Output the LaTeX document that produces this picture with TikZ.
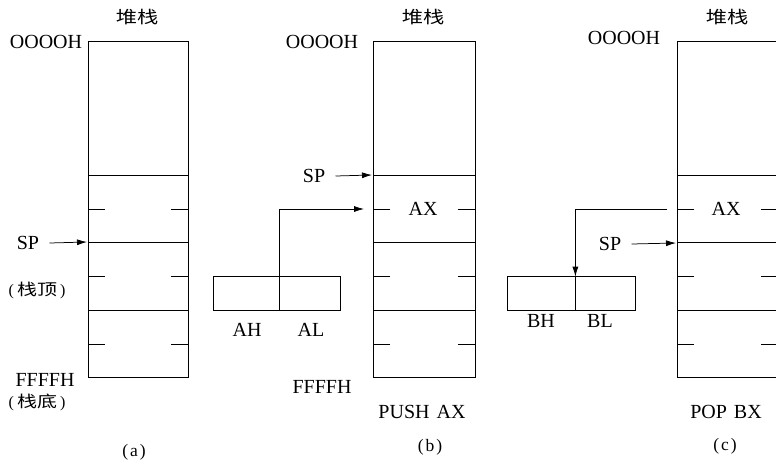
\documentclass[tikz,border=0pt]{standalone}
\usepackage{graphicx}
\usepackage{fontspec}
\setmainfont{Liberation Serif}
\newfontfamily\cjk{Noto Sans CJK SC}
\usetikzlibrary{arrows.meta}
\newcommand\hzt[1]{\scalebox{1.25}[1]{\cjk #1}}
\newcommand\drawstack[2]{%
  \draw (#1,41) rectangle (#2,377);
  \foreach \yy in {175,242,310} {\draw (#1,\yy) -- (#2,\yy);}
  \foreach \yy in {209,276,344} {\draw (#1,\yy) -- ++(17,0); \draw (#2,\yy) -- ++(-17,0);}
}
\begin{document}
\begin{tikzpicture}[x=1pt,y=-1pt,line width=0.75pt,
  lbl/.style={inner sep=0pt,font=\fontsize{20}{22}\selectfont},
  caplbl/.style={inner sep=0pt,font=\fontsize{17.5}{19}\selectfont},
  hz/.style={inner sep=0pt,font=\fontsize{17}{19}\selectfont},
  hzs/.style={inner sep=0pt,font=\fontsize{16}{17}\selectfont},
  arr/.style={-{Latex[length=10pt,width=6pt]}},
  half/.style={draw,inner sep=0pt,minimum height=34pt}]
\clip (0,0) rectangle (776,464);
% ---------- (a)
\drawstack{88}{188}
\node[hz] (ta) at (137,17) {\hzt{堆栈}};
\node[lbl] (za) at (46,42) {OOOOH};
\node[lbl] (spa) at (28,243) {SP};
\coordinate (sta) at (87,242);
\draw[arr] ([xshift=10pt]spa.east) -- (sta);
\node[hzs] (topa) at (37,290) {(\hspace{3pt}\hzt{栈顶}\hspace{3pt})};
\node[lbl] (fa) at (45,380) {FFFFH};
\node[hzs] (bota) at (37,402) {(\hspace{3pt}\hzt{栈底}\hspace{3pt})};
\node[caplbl] (capa) at (134,452) {(\hspace{2pt}a\hspace{2pt})};
% ---------- (b)
\drawstack{373}{475}
\node[hz] (tb) at (423,17) {\hzt{堆栈}};
\node[lbl] (zb) at (322,42) {OOOOH};
\node[lbl] (spb) at (314,176) {SP};
\coordinate (stb) at (372,175);
\draw[arr] ([xshift=10pt]spb.east) -- (stb);
\node[lbl,fill=white,inner xsep=4pt] (axb) at (423,209) {AX};
\node[half,minimum width=66pt] (ah) at (246,293) {};
\node[half,minimum width=61pt] (al) at (309.5,293) {};
\node[lbl] (ahl) at (247,330) {AH};
\node[lbl] (all) at (311,330) {AL};
\coordinate (inb) at (364,209);
\draw[arr] (ah.north east) |- (inb);
\node[lbl] (fb) at (322,387) {FFFFH};
\node[lbl] (pu) at (422,412) {PUSH\hspace{7pt}AX};
\node[caplbl] (capb) at (430,447) {(\hspace{2pt}b\hspace{2pt})};
% ---------- (c)
\drawstack{677}{777.5}
\node[hz] (tc) at (727,17) {\hzt{堆栈}};
\node[lbl] (zc) at (624,38) {OOOOH};
\node[lbl,fill=white,inner xsep=4pt] (axc) at (726,209) {AX};
\node[lbl] (spc) at (610,244) {SP};
\coordinate (stc) at (676,243);
\draw[arr] ([xshift=10pt]spc.east) -- (stc);
\node[half,minimum width=68pt] (bh) at (541,293) {};
\node[half,minimum width=60pt] (bl) at (605,293) {};
\node[lbl] (bhl) at (541,321) {BH};
\node[lbl] (bll) at (600,321) {BL};
\coordinate (outc) at (667,209);
\draw[arr] (outc) -| ([yshift=-1pt]bh.north east);
\node[lbl] (po) at (726,412) {POP\hspace{7pt}BX};
\node[caplbl] (capc) at (725,446) {(\hspace{2pt}c\hspace{2pt})};
\end{tikzpicture}
\end{document}
